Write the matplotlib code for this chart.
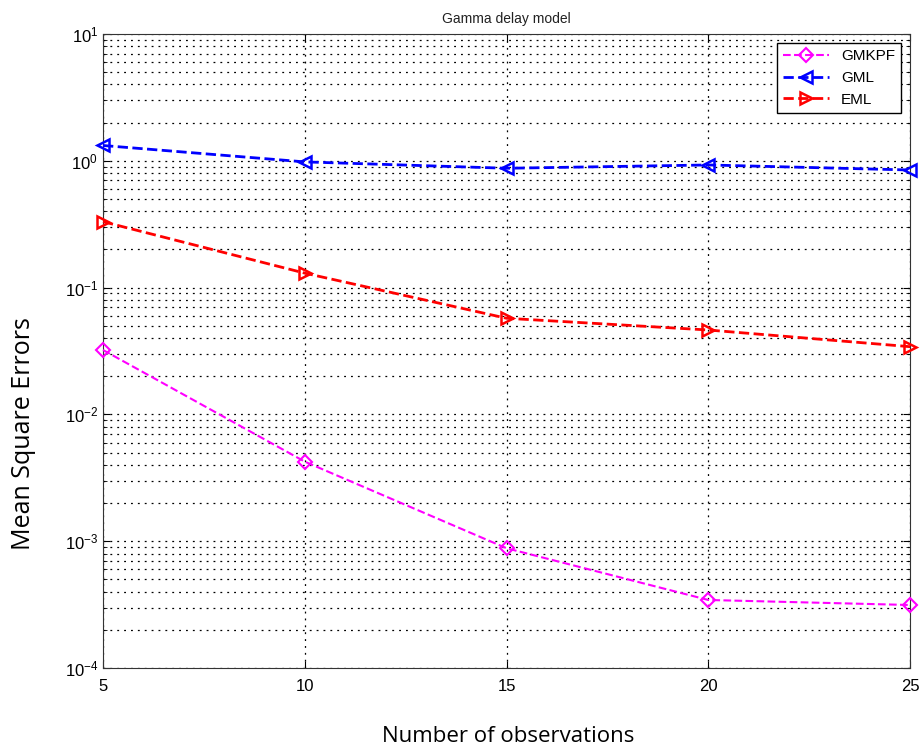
import matplotlib.pyplot as plt
from matplotlib.ticker import LogLocator, NullFormatter

plt.rcParams['font.family'] = ['Liberation Sans', 'DejaVu Sans']
plt.rcParams['mathtext.fontset'] = 'custom'
plt.rcParams['mathtext.rm'] = 'Liberation Sans'
plt.rcParams['mathtext.it'] = 'Liberation Sans'

# datos
observaciones = [5, 10, 15, 20, 25]
gmkpf = [0.0322, 0.00424, 0.00088, 0.000344, 0.000314]
gml = [1.32, 0.98, 0.873, 0.927, 0.846]
eml = [0.331, 0.13, 0.0573, 0.0463, 0.0342]
xticks = [5, 10, 15, 20, 25]

fig = plt.figure(figsize=(9.24, 7.55), dpi=100)
ax = fig.add_axes([0.1115, 0.1152, 0.8735, 0.8398])

ax.plot(observaciones, gmkpf, '--', color='magenta', marker='D', mfc='none',
        mew=1.5, ms=7, lw=1.5, label='GMKPF', clip_on=False, zorder=3)
ax.plot(observaciones, gml, '--', color='blue', marker='<', mfc='none',
        mew=1.8, ms=9, lw=2, label='GML', clip_on=False, zorder=3)
ax.plot(observaciones, eml, '--', color='red', marker='>', mfc='none',
        mew=1.8, ms=9, lw=2, label='EML', clip_on=False, zorder=3)

ax.set_yscale('log')
ax.set_ylim(1e-4, 1e1)
ax.set_xlim(5, 25)
ax.set_xticks(xticks)
ax.yaxis.set_major_locator(LogLocator(base=10, numticks=10))
ax.yaxis.set_minor_locator(LogLocator(base=10, subs=range(2, 10), numticks=20))
ax.yaxis.set_minor_formatter(NullFormatter())

grid_style = dict(linestyle=(0, (1.5, 4)), color='k', lw=0.9)
ax.grid(True, which='major', **grid_style)
ax.grid(True, which='minor', axis='y', **grid_style)
ax.tick_params(direction='in', which='both', top=True, right=True, labelsize=12)
ax.tick_params(which='major', length=5)
ax.tick_params(which='minor', length=3)
ax.tick_params(axis='x', pad=8)
for s in ax.spines.values():
    s.set_color('#333333')

ax.set_title('Gamma delay model', fontsize=10, pad=8, color='#222222')
fig.text(0.025, 0.426, 'Mean Square Errors', rotation=90, fontsize=18,
         family='Open Sans', ha='center', va='center')
fig.text(0.55, 0.024, 'Number of observations', fontsize=16,
         family='Open Sans', ha='center', va='center')

leg = ax.legend(loc='upper right', fontsize=11, fancybox=False, framealpha=1,
                edgecolor='k', handlelength=3, borderaxespad=0.6)
leg.get_frame().set_linewidth(1.0)

plt.savefig('out.png', dpi=100)
